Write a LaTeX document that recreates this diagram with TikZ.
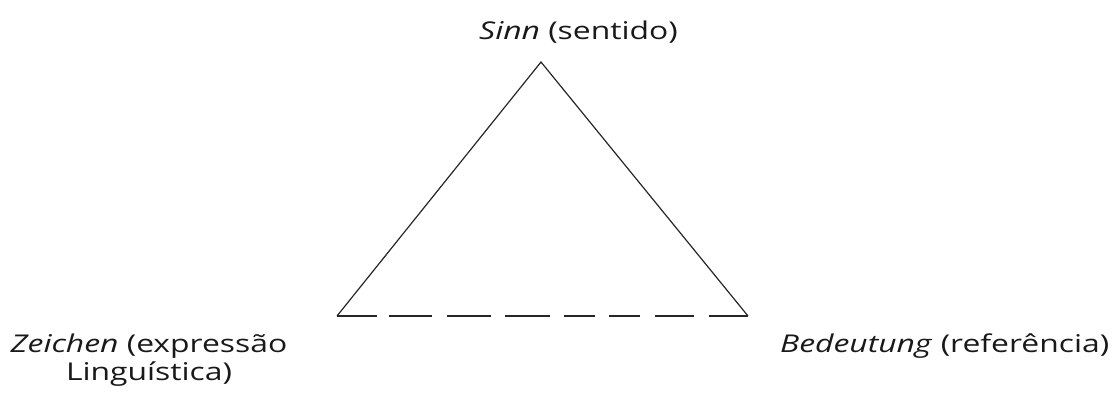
\documentclass[tikz,border=0pt]{standalone}
\usepackage{fontspec}
\setmainfont{Open Sans}[FakeStretch=1.3]
\begin{document}
\begin{tikzpicture}[x=1pt,y=-1pt,
  lbl/.style={inner sep=0pt,font=\fontsize{24.5}{28}\selectfont,text=black!90},
  side/.style={line width=1.2pt,draw=black!85},
  base/.style={line width=1.2pt,draw=black!85,dash pattern=on 40pt off 12pt on 43pt off 15pt on 44pt off 14pt on 45pt off 14pt on 31pt off 14pt on 31pt off 15pt on 39pt off 15pt on 41pt}]
\useasboundingbox (0,0) rectangle (1117,392);
\coordinate (T) at (541,62);
\coordinate (L) at (337,316);
\coordinate (R) at (748,316);
\draw[side] (L) -- (T) -- (R);
\draw[base] (L) -- (R);
\node[lbl,anchor=base west] (sinn) at (479,39) {\textit{Sinn} (sentido)};
\node[lbl,align=center,anchor=base] (zei) at (149,380) {\textit{Zeichen} (expressão\\Linguística)};
\node[lbl,anchor=base west] (bed) at (780,352) {\textit{Bedeutung} (referência)};
\end{tikzpicture}
\end{document}
